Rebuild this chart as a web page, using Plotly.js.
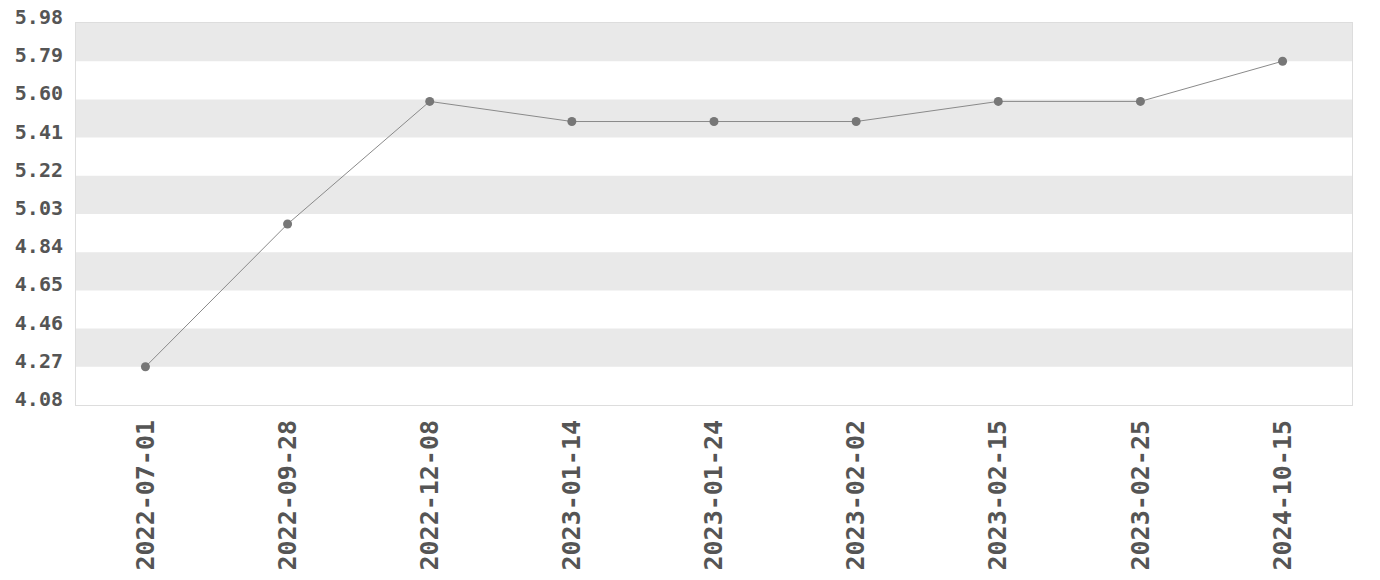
<!DOCTYPE html>
<html>
<head>
<meta charset="utf-8">
<script src="https://cdn.plot.ly/plotly-3.0.1.min.js"></script>
<style>html,body{margin:0;padding:0;background:#fff;}#chart{width:1380px;height:580px;}</style>
</head>
<body>
<div id="chart"></div>
<script>
var dates = ["2022-07-01","2022-09-28","2022-12-08","2023-01-14","2023-01-24","2023-02-02","2023-02-15","2023-02-25","2024-10-15"];
var values = [4.27, 4.98, 5.59, 5.49, 5.49, 5.49, 5.59, 5.59, 5.79];
var yTicks = [4.08, 4.27, 4.46, 4.65, 4.84, 5.03, 5.22, 5.41, 5.60, 5.79, 5.98];
var yTickText = ["4.08","4.27","4.46","4.65","4.84","5.03","5.22","5.41","5.60","5.79","5.98"];

var shapes = [];
for (var i = 1; i < yTicks.length - 1; i += 2) {
  shapes.push({type:'rect', xref:'paper', yref:'y', x0:0, x1:1, y0:yTicks[i], y1:yTicks[i+1],
    fillcolor:'#e9e9e9', line:{width:0}, layer:'below'});
}

var trace = {
  x: dates, y: values, type:'scatter', mode:'lines+markers',
  line:{color:'#8a8a8a', width:1},
  marker:{color:'#777777', size:9},
  hoverinfo:'x+y'
};

var font = {family:'"DejaVu Sans Mono", monospace', color:'#555555'};
var layout = {
  width:1380, height:580,
  margin:{l:76, r:28, t:23, b:175},
  paper_bgcolor:'#ffffff', plot_bgcolor:'#ffffff',
  showlegend:false,
  shapes: shapes,
  xaxis:{type:'category', showgrid:false, zeroline:false, showline:true, mirror:true,
    linecolor:'#dddddd', linewidth:1, ticks:'', tickangle:-90, ticklabelstandoff:4,
    tickfont:{family:font.family, color:font.color, size:25, weight:'bold'}},
  yaxis:{range:[yTicks[0], yTicks[yTicks.length-1]], tickvals:yTicks, ticktext:yTickText,
    showgrid:false, zeroline:false, showline:true, mirror:true, linecolor:'#dddddd', linewidth:1,
    ticks:'', ticklabelstandoff:8, ticklabelshift:-6,
    tickfont:{family:font.family, color:font.color, size:20, weight:'bold'}}
};
Plotly.newPlot('chart', [trace], layout, {displayModeBar:false, staticPlot:true});
</script>
</body>
</html>
